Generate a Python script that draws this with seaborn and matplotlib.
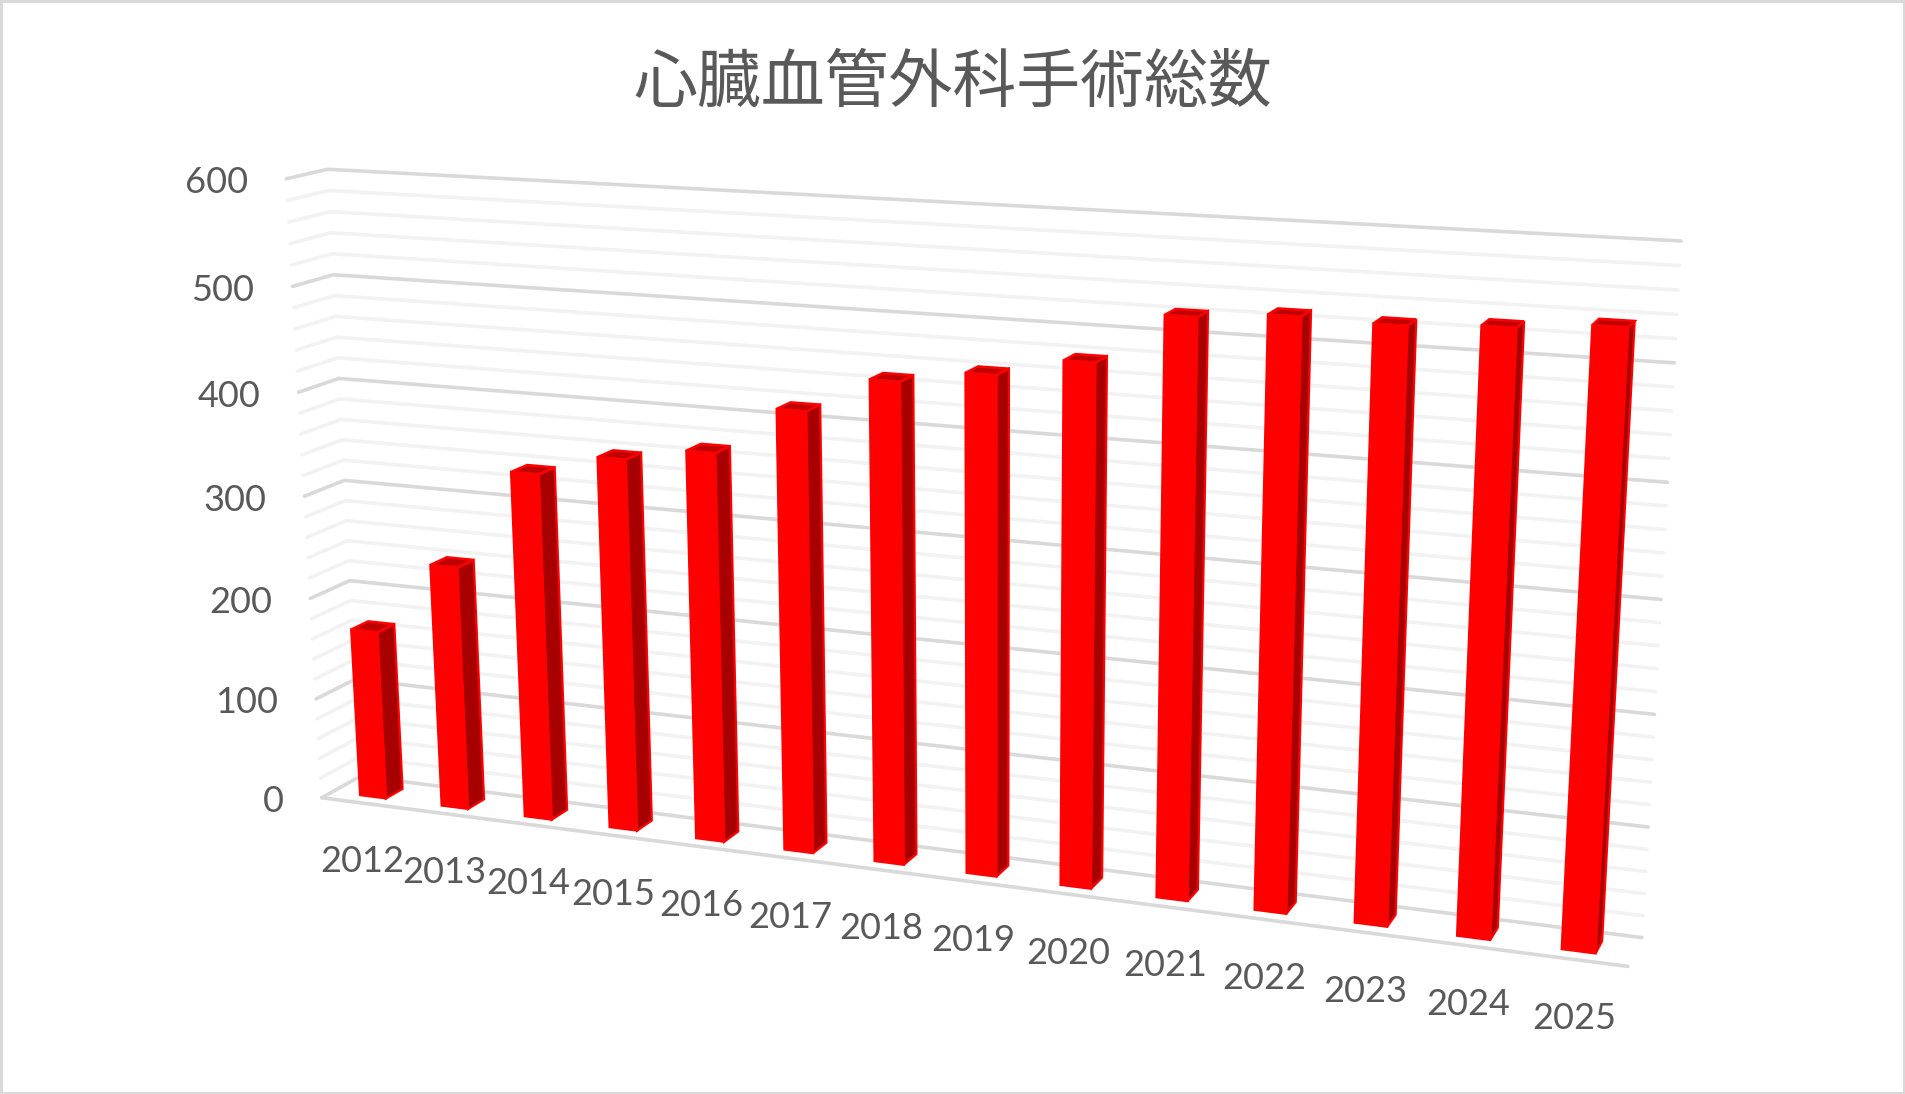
import numpy as np
import pandas as pd
import seaborn as sns
import matplotlib.pyplot as plt
from matplotlib.transforms import Transform

# ----------------------------
# DATA
# ----------------------------
title = "心臓血管外科手術総数"
years = [2012, 2013, 2014, 2015, 2016, 2017, 2018, 2019, 2020, 2021, 2022, 2023, 2024, 2025]
surgeries = [167, 239, 336, 357, 370, 415, 448, 460, 477, 522, 528, 526, 530, 536]
major_ticks = [0, 100, 200, 300, 400, 500, 600]
minor_ticks = [v for v in range(0, 601, 20) if v % 100 != 0]

W, H = 1905, 1094
X0, X1 = 2011.5, 2025.5
Y_MAX = 600
BAR_WIDTH = 0.32
Z_FRONT, Z_BACK = 0.28, 0.72

# ----------------------------
# PERSPECTIVE: box corners (x, y, depth) -> pixels in the picture
# ----------------------------
corners = [
    ((X0, 0, 0), (322, 797)),
    ((X1, 0, 0), (1628, 967)),
    ((X0, 600, 0), (286, 179)),
    ((X0, 0, 1), (360, 777)),
    ((X1, 0, 1), (1642, 937)),
    ((X0, 600, 1), (328, 169)),
    ((X1, 600, 1), (1681, 241)),
]


def normalise(x, y, z):
    return (np.asarray(x, float) - X0) / (X1 - X0), np.asarray(y, float) / Y_MAX, np.asarray(z, float)


rows, rhs = [], []
for (x, y, z), (u, v) in corners:
    a, b, c = normalise(x, y, z)
    rows.append([a, b, c, 1, 0, 0, 0, 0, -u * a, -u * b, -u * c])
    rows.append([0, 0, 0, 0, a, b, c, 1, -v * a, -v * b, -v * c])
    rhs += [u, v]
p = np.linalg.lstsq(np.array(rows, float), np.array(rhs, float), rcond=None)[0]
P = np.append(p, 1).reshape(3, 4)


def project(x, y, z):
    a, b, c = normalise(x, y, z)
    pts = np.stack([a, b, c * np.ones_like(a), np.ones_like(a)])
    out = P @ pts
    return out[0] / out[2], out[1] / out[2]


class SliceTransform(Transform):
    # maps (year, value) at a fixed slice of the box to picture pixels
    input_dims = 2
    output_dims = 2
    is_separable = False
    has_inverse = False

    def __init__(self, z):
        super().__init__()
        self.z = z

    def transform_non_affine(self, values):
        values = np.asarray(values, float)
        u, v = project(values[:, 0], values[:, 1], self.z * np.ones(len(values)))
        return np.column_stack([u, v])


# ----------------------------
# PLOT
# ----------------------------
sns.set_theme(style="white")
plt.rcParams["font.family"] = ["Lato", "Noto Sans CJK JP", "DejaVu Sans"]

df = pd.DataFrame({"year": years, "surgeries": surgeries})

fig = plt.figure(figsize=(W / 100, H / 100), dpi=100, facecolor="white")
ax = fig.add_axes([0, 0, 1, 1])

sns.barplot(data=df, x="year", y="surgeries", native_scale=True, color="#FF0000",
            saturation=1, width=BAR_WIDTH, ax=ax, zorder=5)
ax.set_xlim(0, W)
ax.set_ylim(H, 0)
ax.axis("off")

# front faces are seaborn's own bars pushed through the perspective
front = SliceTransform(Z_FRONT) + ax.transData
for bar in ax.patches:
    bar.set_transform(front)
    bar.set_edgecolor("#FF0000")
    bar.set_linewidth(1.5)
    bar.set_clip_on(False)

# gridlines on the back wall and the left wall
for value in minor_ticks + major_ticks:
    colour = "#D9D9D9" if value in major_ticks else "#F2F2F2"
    xs = [X0, X0, X1]
    zs = [0, 1, 1]
    u, v = project(xs, [value] * 3, zs)
    ax.plot(u, v, color=colour, lw=2.6, solid_capstyle="round", solid_joinstyle="round", zorder=2)

# floor front edge
u, v = project([X0, X1], [0, 0], [0, 0])
ax.plot(u, v, color="#D9D9D9", lw=2.6, solid_capstyle="round", zorder=2)

# side and top faces of each bar
for year, value in zip(years, surgeries):
    right = year + BAR_WIDTH / 2
    left = year - BAR_WIDTH / 2
    su, sv = project([right] * 4, [0, value, value, 0], [Z_FRONT, Z_FRONT, Z_BACK, Z_BACK])
    ax.fill(su, sv, facecolor="#A80000", edgecolor="#FF0000", lw=1.6, zorder=4, clip_on=False)
    tu, tv = project([left, right, right, left], [value] * 4, [Z_FRONT, Z_FRONT, Z_BACK, Z_BACK])
    ax.fill(tu, tv, facecolor="#C00000", edgecolor="#FF0000", lw=1.8, zorder=4, clip_on=False)

# tick labels stay flat, as in the original
for value in major_ticks:
    u, v = project([X0], [value], [0])
    ax.text(u[0] - 38, v[0] + 4, str(value), ha="right", va="center", fontsize=26, color="#595959")
for year in years:
    u, v = project([year], [0], [0])
    ax.text(u[0], v[0] + 59, str(year), ha="center", va="center", fontsize=26, color="#595959")

ax.text(953, 84, title, ha="center", va="center", fontsize=46, color="#595959",
        family=["Noto Sans CJK JP", "DejaVu Sans"])

# chart frame
ax.plot([1, W - 1, W - 1, 1, 1], [1, 1, H - 1, H - 1, 1], color="#D9D9D9", lw=2.2, clip_on=False, zorder=6)

fig.savefig("out.png", dpi=100, facecolor="white")
